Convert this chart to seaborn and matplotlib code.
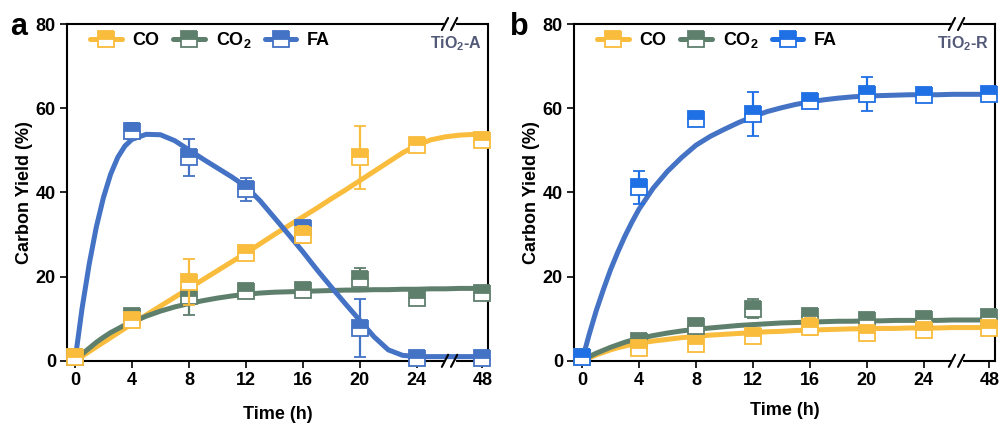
import numpy as np
import pandas as pd
import seaborn as sns
import matplotlib.pyplot as plt
from matplotlib.lines import Line2D
import matplotlib.transforms as mtransforms

# time points (48 h sits after an axis break)
time_labels = ['0', '4', '8', '12', '16', '20', '24', '48']
time_pos = [0, 4, 8, 12, 16, 20, 24, 28.6]

# measured points, panel a (TiO2-A)
a_co = [1.0, 9.8, 18.8, 25.5, 30.0, 48.3, 51.2, 52.4]
a_co_err = [0, 1.0, 5.5, 1.0, 2.0, 7.5, 1.0, 1.0]
a_co2 = [1.0, 10.7, 15.5, 16.7, 16.9, 19.5, 15.0, 16.2]
a_co2_err = [0, 1.0, 4.5, 1.5, 1.0, 2.5, 1.0, 1.0]
a_fa = [1.0, 54.6, 48.3, 40.7, 31.5, 7.9, 0.7, 0.7]
a_fa_err = [0, 2.0, 4.4, 2.8, 1.0, 6.9, 0.3, 0.3]

# measured points, panel b (TiO2-R)
b_co = [1.0, 3.1, 4.0, 5.8, 8.1, 6.7, 7.4, 7.9]
b_co_err = [0, 1.5, 1.0, 1.0, 2.0, 1.0, 1.2, 1.5]
b_co2 = [1.0, 4.6, 8.2, 12.4, 10.7, 9.6, 10.0, 10.5]
b_co2_err = [0, 0.5, 0.8, 2.2, 1.0, 1.0, 0.8, 1.0]
b_fa = [1.0, 41.2, 57.4, 58.6, 61.7, 63.3, 63.1, 63.3]
b_fa_err = [0, 4.0, 1.2, 5.3, 1.5, 4.0, 1.0, 1.5]

# fitted curves
fit_pos = [0, 0.5, 1, 1.5, 2, 2.5, 3, 3.5, 4, 5, 6, 7, 8, 9, 10, 11, 12, 13, 14, 15,
           16, 17, 18, 19, 20, 21, 22, 23, 24, 25, 26, 27, 28.6]
a_co_fit = [0, 1.1, 2.2, 3.3, 4.4, 5.5, 6.6, 7.7, 8.8, 10.9, 13.0, 15.1, 17.2, 19.3, 21.4,
            23.5, 25.6, 27.8, 30.0, 32.1, 34.2, 36.3, 38.5, 40.6, 42.8, 45.0, 47.2, 49.4,
            51.2, 52.5, 53.2, 53.6, 53.9]
a_co2_fit = [0, 1.6, 3.0, 4.4, 5.6, 6.7, 7.6, 8.5, 9.2, 10.6, 11.8, 12.8, 13.6, 14.3, 14.9,
             15.4, 15.8, 16.1, 16.3, 16.4, 16.5, 16.6, 16.7, 16.8, 16.8, 16.9, 16.9, 17.0,
             17.0, 17.1, 17.1, 17.2, 17.2]
a_fa_fit = [0, 12.5, 23.0, 31.8, 38.8, 44.3, 48.3, 51.0, 52.6, 53.8, 53.7, 52.3, 50.1, 47.9,
            45.8, 43.7, 41.4, 38.0, 34.0, 30.0, 25.9, 21.6, 17.5, 13.5, 9.6, 5.7, 2.6, 1.3,
            1.0, 1.0, 1.0, 1.0, 1.0]
b_co_fit = [0, 0.7, 1.4, 2.0, 2.6, 3.1, 3.5, 3.9, 4.2, 4.7, 5.1, 5.5, 5.8, 6.1, 6.3, 6.5,
            6.7, 6.9, 7.0, 7.2, 7.3, 7.4, 7.5, 7.6, 7.6, 7.7, 7.7, 7.8, 7.8, 7.8, 7.9, 7.9,
            7.9]
b_co2_fit = [0, 1.0, 1.8, 2.5, 3.2, 3.8, 4.4, 4.9, 5.3, 6.0, 6.6, 7.1, 7.5, 7.8, 8.1, 8.4,
             8.6, 8.8, 9.0, 9.1, 9.2, 9.3, 9.4, 9.4, 9.5, 9.5, 9.6, 9.6, 9.6, 9.6, 9.7, 9.7,
             9.7]
b_fa_fit = [0, 6.2, 11.9, 16.9, 21.6, 25.7, 29.5, 32.9, 36.0, 41.0, 45.0, 48.3, 51.2, 53.3,
            55.0, 56.6, 58.0, 59.2, 60.1, 60.9, 61.5, 62.0, 62.4, 62.7, 62.9, 63.0, 63.1,
            63.2, 63.2, 63.2, 63.3, 63.3, 63.3]

yellow = '#F9BC3C'
green = '#5F7F6D'
blue = '#4472C4'
blue_b = '#1F6FE5'

sns.set_style("ticks")
plt.rcParams['font.family'] = ['Liberation Sans', 'DejaVu Sans']
plt.rcParams['font.weight'] = 'bold'
plt.rcParams['mathtext.fontset'] = 'custom'
plt.rcParams['mathtext.rm'] = 'Liberation Sans:bold'
plt.rcParams['mathtext.default'] = 'rm'
for k in ('text.color', 'axes.labelcolor', 'xtick.color', 'ytick.color'):
    plt.rcParams[k] = 'black'

fig = plt.figure(figsize=(10, 4.25), dpi=100)
ax_a = fig.add_axes([0.067, 0.151, 0.421, 0.7925])
ax_b = fig.add_axes([0.574, 0.151, 0.421, 0.7925])


def points(ax, y, err, c, z):
    ax.errorbar(time_pos, y, yerr=err, fmt='s', ms=11, color=c, mfc=c, mec=c,
                mew=1.3, fillstyle='top', markerfacecoloralt='white',
                elinewidth=1.6, capsize=4, capthick=1.6, clip_on=False, zorder=z)


def curve(ax, y, c):
    sns.lineplot(x=fit_pos, y=y, ax=ax, color=c, lw=3.6, zorder=2,
                 solid_joinstyle='round', solid_capstyle='round')


def style(ax, tag, xlabelpad):
    ax.set_xlim(-0.56, 29.0)
    ax.set_ylim(0, 80)
    ax.set_xticks(time_pos)
    ax.set_xticklabels(time_labels)
    ax.set_yticks([0, 20, 40, 60, 80])
    for s in ax.spines.values():
        s.set_linewidth(1.5)
        s.set_color('black')
    ax.tick_params(direction='out', length=5, width=1.2, labelsize=13, pad=3,
                   colors='black')
    ax.set_xlabel('Time (h)', fontsize=13, fontweight='bold', labelpad=xlabelpad)
    ax.set_ylabel('Carbon Yield (%)', fontsize=13, fontweight='bold', labelpad=2)
    ax.text(0.986, 0.943, tag, transform=ax.transAxes, ha='right', va='center',
            fontsize=11.5, fontweight='bold', color='#535A78')
    # axis break marks
    tr = mtransforms.blended_transform_factory(ax.transData, ax.transAxes)
    xb = 26.3
    for yy in (0, 1):
        ax.plot([xb - 0.3, xb + 0.3], [yy, yy], color='white', lw=2.5,
                transform=tr, clip_on=False, zorder=5)
        for off in (-0.32, 0.32):
            ax.plot([xb + off - 0.22, xb + off + 0.22], [yy - 0.018, yy + 0.018],
                    color='black', lw=1.5, transform=tr, clip_on=False, zorder=6)


# panel a
curve(ax_a, a_co_fit, yellow)
curve(ax_a, a_co2_fit, green)
curve(ax_a, a_fa_fit, blue)
points(ax_a, a_fa, a_fa_err, blue, 3)
points(ax_a, a_co2, a_co2_err, green, 3.1)
points(ax_a, a_co, a_co_err, yellow, 3.2)
style(ax_a, 'TiO$_2$-A', 12)

# panel b
curve(ax_b, b_co_fit, yellow)
curve(ax_b, b_co2_fit, green)
curve(ax_b, b_fa_fit, blue)
points(ax_b, b_co2, b_co2_err, green, 3)
points(ax_b, b_co, b_co_err, yellow, 3.1)
points(ax_b, b_fa, b_fa_err, blue_b, 3.2)
style(ax_b, 'TiO$_2$-R', 9.5)


def handles(fa_color):
    out = []
    for c in (yellow, green, fa_color):
        out.append(Line2D([], [], color=c, lw=3.6, marker='s', ms=11, mfc=c, mec=c,
                          mew=1.3, fillstyle='top', markerfacecoloralt='white'))
    return out


labels = ['CO', 'CO$_2$', 'FA']
for ax, fc in ((ax_a, blue), (ax_b, blue_b)):
    ax.legend(handles(fc), labels, loc='center left', bbox_to_anchor=(0.055, 0.952),
              ncol=3, frameon=False, handlelength=1.75,
              handletextpad=0.6, columnspacing=0.75, borderpad=0, borderaxespad=0,
              prop={'weight': 'bold', 'size': 13})

fig.text(0.010, 0.918, 'a', fontsize=22, fontweight='bold', va='baseline')
fig.text(0.510, 0.918, 'b', fontsize=22, fontweight='bold', va='baseline')

fig.savefig('out.png', dpi=100)
